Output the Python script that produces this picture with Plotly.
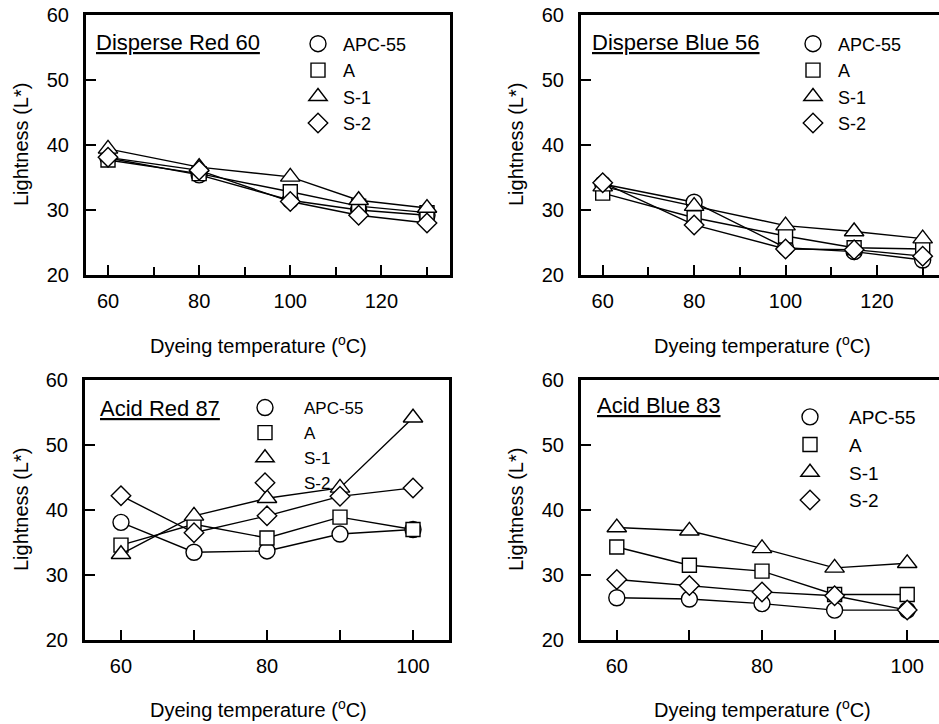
import plotly.graph_objects as go

FONT = "Liberation Sans"
W, H = 939, 724

series_names = ["APC-55", "A", "S-1", "S-2"]

# Disperse Red 60
x_dr60 = [60, 80, 100, 115, 130]
dr60_apc55 = [38.0, 35.4, 31.5, 30.0, 29.2]
dr60_a = [37.7, 35.6, 32.8, 30.6, 29.6]
dr60_s1 = [39.4, 36.6, 35.1, 31.5, 30.3]
dr60_s2 = [38.1, 36.1, 31.3, 29.2, 28.0]

# Disperse Blue 56
x_db56 = [60, 80, 100, 115, 130]
db56_apc55 = [34.0, 31.2, 24.2, 23.6, 22.3]
db56_a = [32.6, 28.8, 26.0, 24.2, 24.0]
db56_s1 = [33.6, 30.6, 27.6, 26.7, 25.6]
db56_s2 = [34.2, 27.7, 24.0, 23.9, 22.9]

# Acid Red 87
x_ar87 = [60, 70, 80, 90, 100]
ar87_apc55 = [38.1, 33.5, 33.7, 36.3, 37.0]
ar87_a = [34.6, 37.8, 35.7, 38.9, 37.0]
ar87_s1 = [33.2, 39.1, 41.8, 43.4, 54.2]
ar87_s2 = [42.2, 36.5, 39.1, 42.1, 43.4]

# Acid Blue 83
x_ab83 = [60, 70, 80, 90, 100]
ab83_apc55 = [26.5, 26.3, 25.6, 24.6, 24.6]
ab83_a = [34.3, 31.5, 30.6, 27.0, 27.0]
ab83_s1 = [37.3, 36.8, 34.1, 31.1, 31.8]
ab83_s2 = [29.3, 28.4, 27.4, 26.8, 24.6]

panel_titles = ["Disperse Red 60", "Disperse Blue 56", "Acid Red 87", "Acid Blue 83"]
x_title = "Dyeing temperature (<sup>o</sup>C)"
y_title = "Lightness (L*)"
y_ticks = [20, 30, 40, 50, 60]
top_x_ticks = [60, 80, 100, 120]
bottom_x_ticks = [60, 70, 80, 90, 100]
bottom_x_labels = ["60", "", "80", "", "100"]

panels = [
    (x_dr60, [dr60_apc55, dr60_a, dr60_s1, dr60_s2]),
    (x_db56, [db56_apc55, db56_a, db56_s1, db56_s2]),
    (x_ar87, [ar87_apc55, ar87_a, ar87_s1, ar87_s2]),
    (x_ab83, [ab83_apc55, ab83_a, ab83_s1, ab83_s2]),
]

symbols = ["circle", "square", "triangle-up", "diamond"]
msizes = [16, 14, 17, 15]


def px_x(p):
    return p / W


def px_y(p):
    return 1 - p / H


# pixel geometry of plot areas: (left, right, top, bottom)
geom = [
    (86, 450, 15, 275),
    (581, 939, 15, 275),
    (85, 449, 380, 640),
    (581, 939, 380, 640),
]
x_ranges = [[55.17, 135.05], [55.25, 133.57], [55.07, 104.93], [55.07, 104.38]]

fig = go.Figure()

legend_names = ["legend", "legend2", "legend3", "legend4"]
for i, (xs, ys_list) in enumerate(panels):
    ax = "" if i == 0 else str(i + 1)
    for j, ys in enumerate(ys_list):
        fig.add_trace(go.Scatter(
            x=xs, y=ys, mode="lines+markers",
            xaxis="x" + ax, yaxis="y" + ax,
            line=dict(color="black", width=1.4),
            marker=dict(symbol=symbols[j], size=msizes[j], color="white",
                        line=dict(color="black", width=1.4)),
            showlegend=False, hoverinfo="skip",
        ))
    for j, name in enumerate(series_names):
        fig.add_trace(go.Scatter(
            x=[None], y=[None], mode="markers", name=name,
            xaxis="x" + ax, yaxis="y" + ax,
            marker=dict(symbol=symbols[j], size=msizes[j], color="white",
                        line=dict(color="black", width=1.4)),
            legend=legend_names[i], showlegend=True,
        ))

layout = dict(
    template="none",
    width=W, height=H,
    margin=dict(l=0, r=0, t=0, b=0, pad=0),
    paper_bgcolor="white", plot_bgcolor="white",
    font=dict(family=FONT, size=20, color="black"),
    annotations=[],
)

legend_pos = [(293, 25.5), (788, 25.5), (226, 390), (771, 398)]
legend_itemwidth = [40, 40, 68, 68]
legend_fontsize = [18, 18, 17, 19]

xtitle_pos = [(258, 344), (762, 344), (258, 708), (762, 708)]
ytitle_pos = [(21, 145), (516, 145), (21, 510), (516, 510)]

for i in range(4):
    l, r, t, b = geom[i]
    ax = "" if i == 0 else str(i + 1)
    top = i < 2
    right_panel = i % 2 == 1
    xa = dict(
        domain=[px_x(l), min(1.0, px_x(r))], range=x_ranges[i], anchor="y" + ax,
        automargin=False,
        showline=True, linecolor="black", linewidth=3, mirror=True,
        ticks="inside", ticklen=10, tickwidth=2, tickcolor="black",
        showgrid=False, zeroline=False,
        ticklabelstandoff=6, ticklabeloverflow="allow",
        tickfont=dict(family=FONT, size=20, color="black"),
    )
    if top:
        xa.update(tickmode="array", tickvals=top_x_ticks,
                  ticktext=[str(v) for v in top_x_ticks],
                  minor=dict(dtick=10, tick0=60, ticks="inside", ticklen=8,
                             tickwidth=2, tickcolor="black", showgrid=False))
    else:
        xa.update(tickmode="array", tickvals=bottom_x_ticks, ticktext=bottom_x_labels)
    ya = dict(
        domain=[px_y(b), px_y(t)], range=[20, 60], anchor="x" + ax,
        automargin=False,
        showline=True, linecolor="black", linewidth=3,
        mirror=(not right_panel),
        ticks="inside", ticklen=10, tickwidth=2, tickcolor="black",
        tickmode="array", tickvals=y_ticks,
        showgrid=False, zeroline=False,
        ticklabelstandoff=10, ticklabeloverflow="allow",
        tickfont=dict(family=FONT, size=20, color="black"),
    )
    layout["xaxis" + ax] = xa
    layout["yaxis" + ax] = ya

    lx, ly = legend_pos[i]
    layout[legend_names[i]] = dict(
        x=px_x(lx), y=px_y(ly), xanchor="left", yanchor="top",
        bgcolor="rgba(0,0,0,0)", borderwidth=0,
        font=dict(family=FONT, size=legend_fontsize[i], color="black"),
        itemwidth=legend_itemwidth[i], tracegroupgap=0,
    )

    xtx, xty = xtitle_pos[i]
    layout["annotations"].append(dict(
        text=x_title, xref="paper", yref="paper",
        x=px_x(xtx), y=px_y(xty), xanchor="center", yanchor="middle",
        showarrow=False, font=dict(family=FONT, size=20, color="black"),
    ))
    ytx, yty = ytitle_pos[i]
    layout["annotations"].append(dict(
        text=y_title, xref="paper", yref="paper", textangle=-90,
        x=px_x(ytx), y=px_y(yty), xanchor="center", yanchor="middle",
        showarrow=False, font=dict(family=FONT, size=20, color="black"),
    ))

title_pos = [(94, 43), (590, 43), (98, 408), (595, 405)]
for i, txt in enumerate(panel_titles):
    tx, ty = title_pos[i]
    layout["annotations"].append(dict(
        text="<u>" + txt + "</u>", xref="paper", yref="paper",
        x=px_x(tx), y=px_y(ty), xanchor="left", yanchor="middle",
        showarrow=False, font=dict(family=FONT, size=22, color="black"),
    ))

fig.update_layout(**layout)
fig.write_html(
    "out.html",
    config={"displayModeBar": False},
    post_script="document.body.style.margin='0';document.body.style.overflow='hidden';",
)
